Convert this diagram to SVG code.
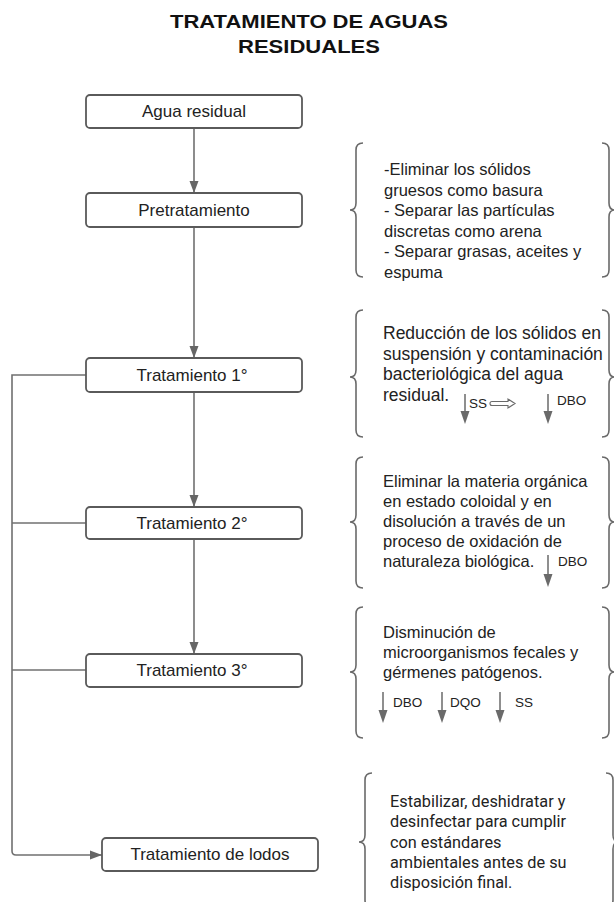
<svg xmlns="http://www.w3.org/2000/svg" width="614" height="902" viewBox="0 0 614 902">
<defs>
<style>
.box{fill:#fff;stroke:#5a5a5a;stroke-width:1.8}
.bt{font-family:"Liberation Sans",Arial,sans-serif;font-size:17px;fill:#222;text-anchor:middle}
.con{fill:none;stroke:#707070;stroke-width:1.6}
.br{fill:none;stroke:#6a6a6a;stroke-width:1.6}
.tx{font-family:"Liberation Sans",Arial,sans-serif;font-size:16.5px;fill:#222}
.tx2{font-family:"Liberation Sans",Arial,sans-serif;font-size:17.5px;fill:#222}
.tr{font-family:Roboto,"Liberation Sans",sans-serif;font-size:16.3px;fill:#222}
.sm{font-family:"Liberation Sans",Arial,sans-serif;font-size:13.5px;fill:#222}
.da{fill:none;stroke:#6a6a6a;stroke-width:1.5}
.dh{fill:#6a6a6a}
</style>
<marker id="ah" markerUnits="userSpaceOnUse" markerWidth="12" markerHeight="12" viewBox="0 0 12 12" refX="12" refY="6" orient="auto">
<path d="M0,1.5 L12,6 L0,10.5 Z" fill="#666"/>
</marker>
</defs>
<rect width="614" height="902" fill="#fff"/>
<g id="title" font-family="Liberation Sans,Arial,sans-serif" font-weight="bold" font-size="18.5" fill="#111" text-anchor="middle">
<text x="309" y="28" textLength="278" lengthAdjust="spacingAndGlyphs">TRATAMIENTO DE AGUAS</text>
<text x="309" y="53" textLength="142" lengthAdjust="spacingAndGlyphs">RESIDUALES</text>
</g>
<g id="connectors">
<path class="con" d="M194,128 V193" marker-end="url(#ah)"/>
<path class="con" d="M194,227 V358" marker-end="url(#ah)"/>
<path class="con" d="M194,392 V507" marker-end="url(#ah)"/>
<path class="con" d="M194,539 V654" marker-end="url(#ah)"/>
<path class="con" d="M86,375 H12 V851 Q12,855 16,855 H102" marker-end="url(#ah)"/>
<path class="con" d="M86,523 H12"/>
<path class="con" d="M86,670 H12"/>
</g>
<g id="n-agua"><rect class="box" x="86" y="95" width="216" height="33" rx="4"/><text class="bt" x="194" y="117">Agua residual</text></g>
<g id="n-pre"><rect class="box" x="86" y="193" width="216" height="34" rx="4"/><text class="bt" x="194" y="216">Pretratamiento</text></g>
<g id="n-t1"><rect class="box" x="86" y="358" width="216" height="34" rx="4"/><text class="bt" x="192" y="381">Tratamiento 1°</text></g>
<g id="n-t2"><rect class="box" x="86" y="507" width="216" height="32" rx="4"/><text class="bt" x="192" y="529">Tratamiento 2°</text></g>
<g id="n-t3"><rect class="box" x="86" y="654" width="216" height="33" rx="4"/><text class="bt" x="192" y="676">Tratamiento 3°</text></g>
<g id="n-lodos"><rect class="box" x="102" y="838" width="216" height="33" rx="4"/><text class="bt" x="210" y="860">Tratamiento de lodos</text></g>
<g id="d-pre">
<path class="br" d="M363,143 Q356,143 356,150 V203 Q356,210 350,210 Q356,210 356,217 V270 Q356,277 363,277"/>
<path class="br" d="M602,143 Q609,143 609,150 V203 Q609,210 615,210 Q609,210 609,217 V270 Q609,277 602,277"/>
<text class="tx"><tspan x="384" y="175">-Eliminar los sólidos</tspan><tspan x="384" y="195.5">gruesos como basura</tspan><tspan x="384" y="216">- Separar las partículas</tspan><tspan x="384" y="236.5">discretas como arena</tspan><tspan x="384" y="257">- Separar grasas, aceites y</tspan><tspan x="384" y="277.5">espuma</tspan></text>
</g>
<g id="d-t1">
<path class="br" d="M363,310 Q356,310 356,317 V370 Q356,377 350,377 Q356,377 356,384 V430 Q356,437 363,437"/>
<path class="br" d="M602,310 Q609,310 609,317 V370 Q609,377 615,377 Q609,377 609,384 V430 Q609,437 602,437"/>
<text class="tx2"><tspan x="383" y="339">Reducción de los sólidos en</tspan><tspan x="383" y="359.5">suspensión y contaminación</tspan><tspan x="383" y="380">bacteriológica del agua</tspan><tspan x="383" y="400.5">residual.</tspan></text>
<path class="da" d="M465,394 V413"/><path class="dh" d="M460.5,411 L469.5,411 L465,424 Z"/>
<text class="sm" x="469" y="408">SS</text>
<path d="M492,401.5 H508 V399 L515,403.5 L508,408 V405.5 H492 Q490,405.5 490,403.5 Q490,401.5 492,401.5 Z" fill="#fff" stroke="#6a6a6a" stroke-width="1.1"/>
<path class="da" d="M548,394 V413"/><path class="dh" d="M543.5,411 L552.5,411 L548,424 Z"/>
<text class="sm" x="557" y="405">DBO</text>
</g>
<g id="d-t2">
<path class="br" d="M363,457 Q356,457 356,464 V515 Q356,522 350,522 Q356,522 356,529 V581 Q356,588 363,588"/>
<path class="br" d="M602,457 Q609,457 609,464 V515 Q609,522 615,522 Q609,522 609,529 V581 Q609,588 602,588"/>
<text class="tx"><tspan x="383" y="487">Eliminar la materia orgánica</tspan><tspan x="383" y="507">en estado coloidal y en</tspan><tspan x="383" y="527">disolución a través de un</tspan><tspan x="383" y="547">proceso de oxidación de</tspan><tspan x="383" y="567">naturaleza biológica.</tspan></text>
<path class="da" d="M548,555 V576"/><path class="dh" d="M543.5,574 L552.5,574 L548,587 Z"/>
<text class="sm" x="558" y="566">DBO</text>
</g>
<g id="d-t3">
<path class="br" d="M363,607 Q356,607 356,614 V665 Q356,672 350,672 Q356,672 356,679 V731 Q356,738 363,738"/>
<path class="br" d="M602,607 Q609,607 609,614 V665 Q609,672 615,672 Q609,672 609,679 V731 Q609,738 602,738"/>
<text class="tx"><tspan x="383" y="638">Disminución de</tspan><tspan x="383" y="658">microorganismos fecales y</tspan><tspan x="383" y="678">gérmenes patógenos.</tspan></text>
<path class="da" d="M383,692 V712"/><path class="dh" d="M378.5,710 L387.5,710 L383,723 Z"/>
<text class="sm" x="393" y="707">DBO</text>
<path class="da" d="M442,692 V712"/><path class="dh" d="M437.5,710 L446.5,710 L442,723 Z"/>
<text class="sm" x="450" y="707">DQO</text>
<path class="da" d="M500,692 V712"/><path class="dh" d="M495.5,710 L504.5,710 L500,723 Z"/>
<text class="sm" x="515" y="707">SS</text>
</g>
<g id="d-lodos">
<path class="br" d="M372,773 Q365,773 365,780 V835 Q365,842 359,842 Q365,842 365,849 V900 Q365,907 372,907"/>
<path class="br" d="M606,773 Q613,773 613,780 V835 Q613,842 619,842 Q613,842 613,849 V900 Q613,907 606,907"/>
<text class="tr"><tspan x="390" y="807">Estabilizar, deshidratar y</tspan><tspan x="390" y="827.3">desinfectar para cumplir</tspan><tspan x="390" y="847.6">con estándares</tspan><tspan x="390" y="867.9">ambientales antes de su</tspan><tspan x="390" y="888.2">disposición final.</tspan></text>
</g>
</svg>
